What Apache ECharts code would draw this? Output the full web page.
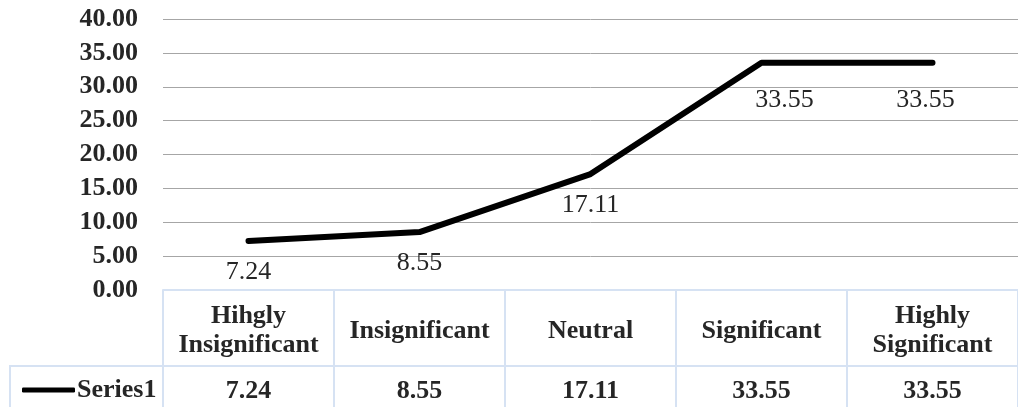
<!DOCTYPE html>
<html>
<head>
<meta charset="utf-8">
<script src="https://cdn.jsdelivr.net/npm/echarts@6/dist/echarts.min.js"></script>
<style>
    html, body { margin: 0; padding: 0; background: #fff; }
    #chart { width: 1018px; height: 407px; }
</style>
</head>
<body>
<div id="chart"></div>
<script>
(function() {
    const categories = ['Hihgly\nInsignificant', 'Insignificant', 'Neutral', 'Significant', 'Highly\nSignificant'];
    const series1 = [7.24, 8.55, 17.11, 33.55, 33.55];
    const seriesName = 'Series1';

    const FONT = '"Liberation Serif", "DejaVu Serif", serif';
    const BORDER = '#d6e2f3';
    const TEXT = '#262626';

    const myChart = echarts.init(document.getElementById('chart'));

    const option = {
        animation: false,
        textStyle: { fontFamily: FONT },
        legend: {
            left: 17,
            top: 372,
            itemWidth: 53,
            itemHeight: 5,
            itemGap: 0,
            textStyle: { fontFamily: FONT, fontSize: 26, fontWeight: 'bold', color: TEXT, padding: [0, 0, 0, -3] },
            data: [{ name: seriesName, icon: 'roundRect', itemStyle: { color: '#000' } }]
        },
        grid: { left: 163, top: 19, width: 868, height: 271 },
        xAxis: [
            {
                type: 'category',
                data: categories,
                boundaryGap: true,
                axisLine: { lineStyle: { color: BORDER, width: 2 } },
                axisTick: { show: true, interval: 0, length: 118, lineStyle: { color: BORDER, width: 2 } },
                axisLabel: {
                    interval: 0,
                    hideOverlap: false,
                    margin: 41,
                    fontFamily: FONT,
                    fontSize: 26,
                    fontWeight: 'bold',
                    color: TEXT,
                    lineHeight: 29,
                    align: 'center',
                    verticalAlign: 'middle'
                }
            },
            {
                type: 'category',
                position: 'bottom',
                offset: 76,
                data: series1.map(v => v.toFixed(2)),
                boundaryGap: true,
                axisLine: { lineStyle: { color: BORDER, width: 2 } },
                axisTick: { show: false },
                axisLabel: {
                    interval: 0,
                    margin: 25,
                    fontFamily: FONT,
                    fontSize: 26,
                    fontWeight: 'bold',
                    color: TEXT,
                    verticalAlign: 'middle'
                }
            }
        ],
        yAxis: {
            type: 'value',
            min: 0,
            max: 40,
            interval: 5,
            axisLine: { show: false },
            axisTick: { show: false },
            axisLabel: {
                margin: 25,
                fontFamily: FONT,
                fontSize: 26,
                fontWeight: 'bold',
                color: TEXT,
                formatter: v => v.toFixed(2)
            },
            splitLine: { lineStyle: { color: '#a6a6a6', width: 1 } }
        },
        series: [
            {
                name: seriesName,
                type: 'line',
                data: series1,
                symbol: 'circle',
                symbolSize: 1,
                showSymbol: true,
                lineStyle: { color: '#000', width: 6, cap: 'round', join: 'round' },
                itemStyle: { color: '#000' },
                label: {
                    show: true,
                    position: 'bottom',
                    distance: 18,
                    fontFamily: FONT,
                    fontSize: 26,
                    color: TEXT,
                    formatter: p => p.value.toFixed(2)
                },
                labelLayout: params => params.dataIndex === 3 ? { dx: 23, dy: 6 } : (params.dataIndex === 4 ? { dx: -7, dy: 6 } : {})
            }
        ],
        graphic: [
            {
                type: 'polyline',
                silent: true,
                shape: { points: [[10, 407], [10, 366], [163, 366]] },
                style: { stroke: BORDER, lineWidth: 2, fill: null }
            }
        ]
    };

    myChart.setOption(option);

    window.addEventListener('resize', () => {
        if (myChart) myChart.resize();
    });
})();
</script>
</body>
</html>
